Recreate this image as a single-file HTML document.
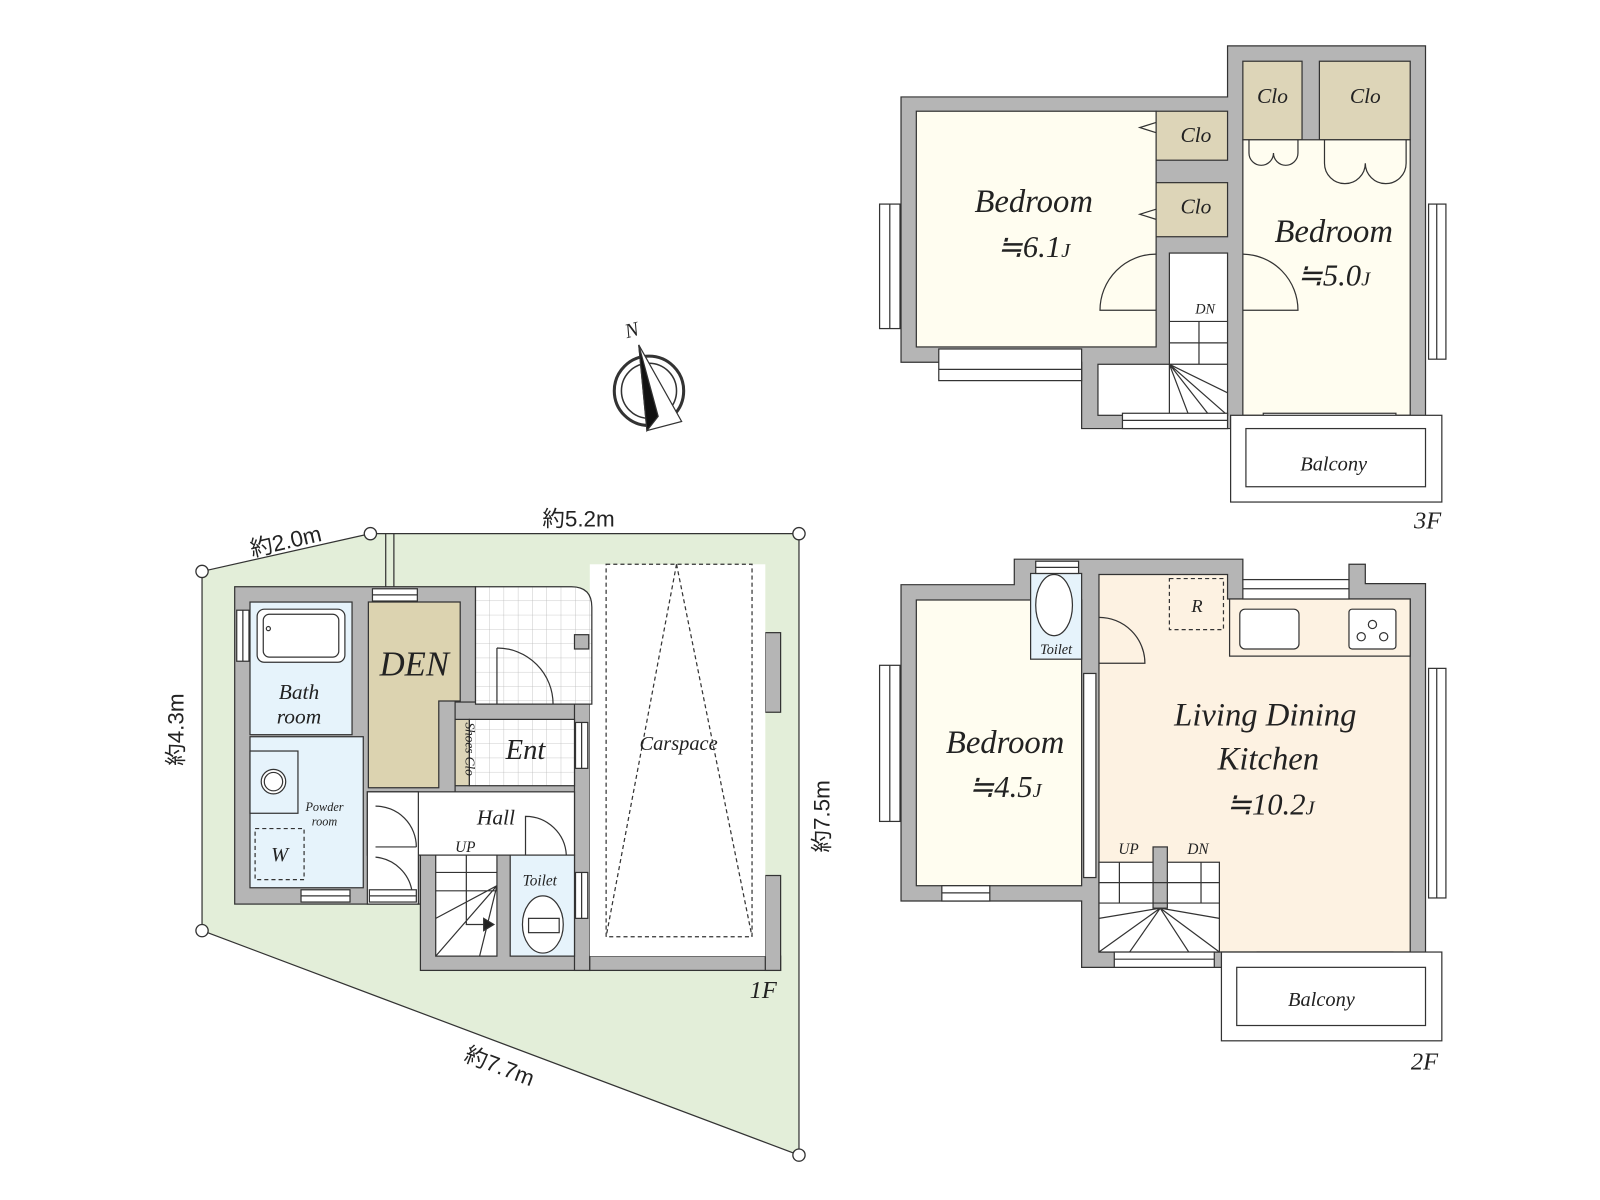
<!DOCTYPE html>
<html><head><meta charset="utf-8"><style>
html,body{margin:0;padding:0;background:#fff;}
svg{display:block}
text{font-family:"Liberation Serif","Noto Serif CJK SC",serif;font-style:italic;fill:#222;}
.s{font-family:"Liberation Sans","Noto Sans CJK JP",sans-serif;font-style:normal;}
</style></head><body>
<svg width="1600" height="1200" viewBox="0 0 1568 1176" xmlns="http://www.w3.org/2000/svg">
<defs>
<pattern id="tile" width="14" height="14" patternUnits="userSpaceOnUse" x="466" y="575">
<rect width="14" height="14" fill="#fff"/><path d="M14 0V14M0 14H14" stroke="#bbb" stroke-width="0.8"/></pattern>
</defs>
<g stroke="#333" stroke-width="1.2">
<!-- SITE -->
<polygon points="198,560 363,523 783,523 783,1132 198,912" fill="#e3eed9" stroke="#333"/>
<line x1="378" y1="523" x2="378" y2="575"/><line x1="386" y1="523" x2="386" y2="575"/>

<!-- 1F walls -->
<rect x="230" y="575" width="236" height="311" fill="#b5b5b5"/>
<rect x="446" y="688" width="132" height="150" fill="#b5b5b5"/>
<rect x="412" y="820" width="166" height="131" fill="#b5b5b5"/>
<rect x="563" y="688" width="15" height="263" fill="#b5b5b5"/>
<rect x="578" y="937" width="187" height="14" fill="#b5b5b5"/>
<rect x="750" y="858" width="15" height="93" fill="#b5b5b5"/>
<rect x="750" y="620" width="15" height="78" fill="#b5b5b5"/>
<rect x="578" y="553" width="172" height="384" fill="#fff" stroke="none"/>
<path d="M466,575 H560 Q580,575 580,595 V690 H466 Z" fill="url(#tile)" stroke="#333"/>
<rect x="563" y="622" width="14" height="14" fill="#b5b5b5"/>
<rect x="245" y="590" width="100" height="130" fill="#e6f3fb"/>
<rect x="252" y="597" width="86" height="52" rx="7" fill="#fff"/>
<rect x="258" y="602" width="74" height="42" rx="6" fill="none"/>
<circle cx="263" cy="616" r="2" fill="none"/>
<rect x="245" y="722" width="111" height="148" fill="#e6f3fb"/>
<rect x="245" y="736" width="47" height="61" fill="#e6f3fb"/>
<circle cx="268" cy="766" r="12" fill="#fff"/><circle cx="268" cy="766" r="9" fill="none"/>
<rect x="250" y="812" width="48" height="50" fill="none" stroke-dasharray="4,3"/>
<polygon points="361,590 451,590 451,687 430,687 430,772 361,772" fill="#dcd3b0"/>
<rect x="446" y="705" width="14" height="65" fill="#ddd5b8"/>
<rect x="460" y="705" width="103" height="65" fill="url(#tile)"/>
<rect x="360" y="776" width="203" height="62" fill="#fff"/>
<rect x="360" y="776" width="50" height="110" fill="#fff"/>
<rect x="427" y="838" width="60" height="99" fill="#fff"/>
<rect x="500" y="838" width="63" height="99" fill="#e6f3fb"/>
<path d="M427,855H487M427,873H487M457,838V873M427,900L487,868M427,937L487,868M470,937L487,868M457,873V906H480" fill="none"/>
<polygon points="474,900 484,906 474,912" fill="#222"/>
<ellipse cx="532" cy="906" rx="20" ry="28" fill="#fff"/>
<rect x="518" y="900" width="30" height="14" fill="#fff"/>
<path d="M487,635 V690 M487,635 A55,55 0 0 1 542,690" fill="none"/>
<path d="M368,790 A40,40 0 0 1 408,830 M368,830 H408" fill="none"/>
<path d="M515,838 V800 A40,40 0 0 1 555,838" fill="none"/>
<path d="M368,840 A40,40 0 0 1 404,875" fill="none"/>
<g fill="#fff">
<rect x="232" y="598" width="12" height="50"/><line x1="238" y1="598" x2="238" y2="648"/>
<rect x="365" y="577" width="44" height="12"/><line x1="365" y1="583" x2="409" y2="583"/>
<rect x="295" y="872" width="48" height="12"/><line x1="295" y1="878" x2="343" y2="878"/>
<rect x="362" y="872" width="46" height="12"/><line x1="362" y1="878" x2="408" y2="878"/>
<rect x="564" y="708" width="12" height="45"/><line x1="570" y1="708" x2="570" y2="753"/>
<rect x="564" y="855" width="12" height="45"/><line x1="570" y1="855" x2="570" y2="900"/>
</g>
<rect x="594" y="553" width="143" height="365" fill="none" stroke-dasharray="4,3"/>
<path d="M663,553 L594,918 M663,553 L737,918" fill="none" stroke-dasharray="4,3"/>

<!-- 3F -->
<polygon points="883,95 1203,95 1203,45 1397,45 1397,420 1060,420 1060,355 883,355" fill="#b5b5b5"/>
<rect x="898" y="109" width="235" height="231" fill="#fffdf0"/>
<rect x="1133" y="109" width="70" height="48" fill="#ddd5b8"/>
<rect x="1133" y="179" width="70" height="53" fill="#ddd5b8"/>
<rect x="1218" y="60" width="58" height="77" fill="#ddd5b8"/>
<rect x="1293" y="60" width="89" height="77" fill="#ddd5b8"/>
<rect x="1218" y="137" width="164" height="270" fill="#fffdf0"/>
<rect x="1146" y="248" width="57" height="159" fill="#fff"/>
<rect x="1076" y="357" width="70" height="50" fill="#fff"/>
<path d="M1146,315H1203M1146,336H1203M1146,357H1203M1175,315V357M1146,357L1203,385M1146,357L1203,407M1146,357L1185,407M1146,357L1165,407" fill="none"/>
<path d="M1133,304 H1078 A55,55 0 0 1 1133,249 M1218,304 H1272 A55,55 0 0 0 1218,249" fill="none"/>
<path d="M1224,137 V150 A12,12 0 0 0 1248,150 A12,12 0 0 0 1272,150 V137 M1298,137 V160 A20,20 0 0 0 1338,160 A20,20 0 0 0 1378,160 V137" fill="none"/>
<path d="M1133,120 L1117,125 L1133,130 M1133,205 L1117,210 L1133,215" fill="none"/>
<g fill="#fff">
<rect x="862" y="200" width="20" height="122"/><line x1="872" y1="200" x2="872" y2="322"/>
<rect x="920" y="342" width="140" height="31"/><line x1="920" y1="362" x2="1060" y2="362"/>
<rect x="1400" y="200" width="17" height="152"/><line x1="1408" y1="200" x2="1408" y2="352"/>
<rect x="1100" y="405" width="103" height="15"/><line x1="1100" y1="412" x2="1203" y2="412"/>
<rect x="1238" y="405" width="130" height="15"/><line x1="1238" y1="412" x2="1368" y2="412"/>
</g>
<rect x="1206" y="407" width="207" height="85" fill="#fff"/>
<rect x="1221" y="420" width="176" height="57" fill="#fff"/>

<!-- 2F -->
<polygon points="883,573 994,573 994,548 1218,548 1218,568 1322,568 1322,553 1338,553 1338,572 1397,572 1397,948 1060,948 1060,883 883,883" fill="#b5b5b5"/>
<rect x="898" y="588" width="162" height="280" fill="#fffdf0"/>
<rect x="1010" y="562" width="50" height="84" fill="#e6f3fb"/>
<ellipse cx="1033" cy="593" rx="18" ry="30" fill="#fff"/>
<polygon points="1077,563 1203,563 1203,587 1382,587 1382,933 1077,933" fill="#fdf2e2"/>
<rect x="1205" y="587" width="177" height="56" fill="#fdf2e2"/>
<rect x="1218" y="568" width="104" height="19" fill="#fff"/>
<line x1="1218" y1="577" x2="1322" y2="577"/>
<rect x="1146" y="567" width="53" height="50" fill="none" stroke-dasharray="4,3"/>
<rect x="1215" y="597" width="58" height="39" rx="5" fill="#fff"/>
<rect x="1322" y="597" width="46" height="39" rx="3" fill="#fff"/>
<circle cx="1345" cy="612" r="4" fill="none"/><circle cx="1334" cy="624" r="4" fill="none"/><circle cx="1356" cy="624" r="4" fill="none"/>
<rect x="1077" y="845" width="118" height="88" fill="#fff"/>
<rect x="1130" y="830" width="14" height="60" fill="#b5b5b5"/>
<path d="M1077,865H1195M1077,885H1195M1097,845V885M1177,845V885M1077,900L1137,890M1077,933L1137,890M1107,933L1137,890M1195,900L1137,890M1195,933L1137,890M1165,933L1137,890" fill="none"/>
<path d="M1077,605 A45,45 0 0 1 1122,650 H1077" fill="none"/>
<g fill="#fff">
<rect x="862" y="652" width="20" height="153"/><line x1="872" y1="652" x2="872" y2="805"/>
<rect x="1400" y="655" width="17" height="225"/><line x1="1408" y1="655" x2="1408" y2="880"/>
<rect x="923" y="868" width="47" height="15"/><line x1="923" y1="875" x2="970" y2="875"/>
<rect x="1015" y="550" width="42" height="12"/><line x1="1015" y1="556" x2="1057" y2="556"/>
<rect x="1092" y="933" width="98" height="15"/><line x1="1092" y1="940" x2="1190" y2="940"/>
<rect x="1232" y="933" width="133" height="15"/><line x1="1232" y1="940" x2="1365" y2="940"/>
<rect x="1062" y="660" width="12" height="200"/>
</g>
<rect x="1197" y="933" width="216" height="87" fill="#fff"/>
<rect x="1212" y="948" width="185" height="57" fill="#fff"/>

<!-- compass -->
<circle cx="636" cy="383" r="34" fill="none" stroke-width="3"/>
<circle cx="636" cy="383" r="27" fill="none" stroke-width="1.5"/>
<polygon points="626,338 668,413 634,422" fill="#fff"/>
<polygon points="626,338 645,408 634,422" fill="#111"/>
</g>
<g fill="#fff" stroke="#333" stroke-width="1.3">
<circle cx="198" cy="560" r="6"/><circle cx="363" cy="523" r="6"/><circle cx="783" cy="523" r="6"/>
<circle cx="198" cy="912" r="6"/><circle cx="783" cy="1132" r="6"/>
</g>
<text class="s" x="280" y="538" font-size="22" text-anchor="middle" transform="rotate(-13 280 530)">約2.0m</text>
<text class="s" x="567" y="516" font-size="22" text-anchor="middle">約5.2m</text>
<text class="s" x="0" y="0" font-size="22" text-anchor="middle" transform="translate(180,715) rotate(-90)">約4.3m</text>
<text class="s" x="0" y="0" font-size="22" text-anchor="middle" transform="translate(813,800) rotate(-90)">約7.5m</text>
<text class="s" x="0" y="0" font-size="22" text-anchor="middle" transform="translate(487,1052) rotate(21)">約7.7m</text>
<text x="612" y="330" font-size="20" font-style="normal" transform="rotate(-15 619 322)">N</text>

<text x="293" y="685" font-size="21" text-anchor="middle">Bath</text>
<text x="293" y="709" font-size="21" text-anchor="middle">room</text>
<text x="318" y="795" font-size="12" text-anchor="middle">Powder</text>
<text x="318" y="809" font-size="12" text-anchor="middle">room</text>
<text x="274" y="844" font-size="20" text-anchor="middle">W</text>
<text x="406" y="662" font-size="34" text-anchor="middle">DEN</text>
<text x="515" y="744" font-size="28" text-anchor="middle">Ent</text>
<text x="0" y="0" font-size="13" transform="translate(456,708) rotate(90)">Shoes Clo</text>
<text x="486" y="808" font-size="21" text-anchor="middle">Hall</text>
<text x="456" y="835" font-size="15" text-anchor="middle">UP</text>
<text x="529" y="868" font-size="15" text-anchor="middle">Toilet</text>
<text x="665" y="735" font-size="20" text-anchor="middle">Carspace</text>
<text x="748" y="978" font-size="24" text-anchor="middle">1F</text>

<text x="1013" y="208" font-size="32" text-anchor="middle">Bedroom</text>
<text x="1013" y="252" font-size="30" text-anchor="middle">≒6.1<tspan font-size="20">J</tspan></text>
<text x="1307" y="237" font-size="32" text-anchor="middle">Bedroom</text>
<text x="1307" y="280" font-size="30" text-anchor="middle">≒5.0<tspan font-size="20">J</tspan></text>
<text x="1172" y="139" font-size="21" text-anchor="middle">Clo</text>
<text x="1172" y="209" font-size="21" text-anchor="middle">Clo</text>
<text x="1247" y="101" font-size="21" text-anchor="middle">Clo</text>
<text x="1338" y="101" font-size="21" text-anchor="middle">Clo</text>
<text x="1181" y="307" font-size="14" text-anchor="middle">DN</text>
<text x="1307" y="461" font-size="20" text-anchor="middle">Balcony</text>
<text x="1399" y="518" font-size="24" text-anchor="middle">3F</text>

<text x="985" y="738" font-size="32" text-anchor="middle">Bedroom</text>
<text x="985" y="781" font-size="30" text-anchor="middle">≒4.5<tspan font-size="20">J</tspan></text>
<text x="1240" y="711" font-size="32" text-anchor="middle">Living Dining</text>
<text x="1243" y="754" font-size="32" text-anchor="middle">Kitchen</text>
<text x="1245" y="798" font-size="30" text-anchor="middle">≒10.2<tspan font-size="20">J</tspan></text>
<text x="1106" y="837" font-size="15" text-anchor="middle">UP</text>
<text x="1174" y="837" font-size="15" text-anchor="middle">DN</text>
<text x="1035" y="641" font-size="14" text-anchor="middle">Toilet</text>
<text x="1173" y="600" font-size="18" text-anchor="middle">R</text>
<text x="1295" y="986" font-size="20" text-anchor="middle">Balcony</text>
<text x="1396" y="1048" font-size="24" text-anchor="middle">2F</text>
</svg>
</body></html>
